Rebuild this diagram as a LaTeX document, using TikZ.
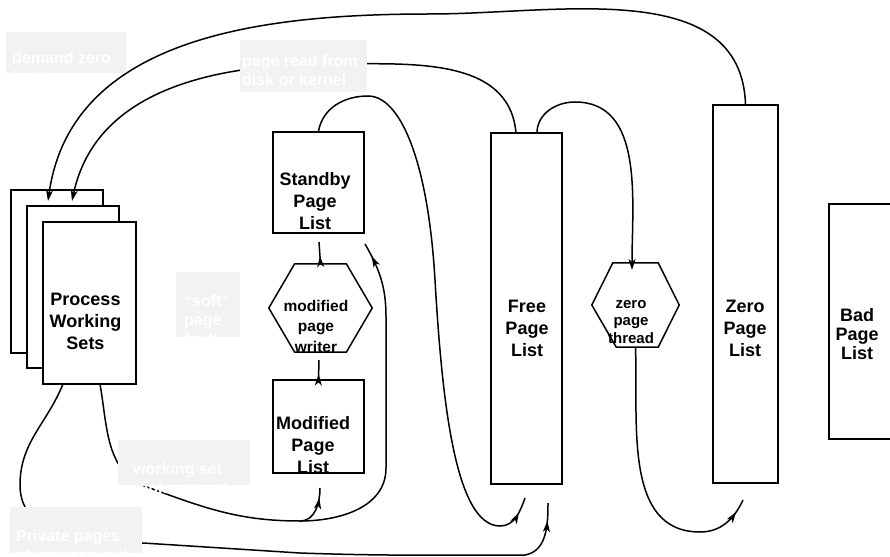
\documentclass[tikz,border=0pt]{standalone}
\usepackage{fontspec}
\setmainfont{Liberation Sans}
\usetikzlibrary{arrows.meta,decorations.markings,calc}
\definecolor{labelgray}{RGB}{242,242,242}

\begin{document}
\begin{tikzpicture}[x=1pt,y=-1pt,
  box/.style={draw,line width=1.5pt,fill=white,inner sep=0pt},
  hexframe/.style={inner sep=0pt},
  listtext/.style={font=\bfseries\fontsize{18}{22}\selectfont,align=center,inner sep=0pt},
  hextext/.style={font=\bfseries\fontsize{15.5}{20.5}\selectfont,align=center,inner sep=0pt},
  tag/.style={fill=labelgray,inner sep=0pt},
  tagtext/.style={font=\bfseries\fontsize{16}{19}\selectfont,text=white,align=left,inner sep=0pt,anchor=north west},
  flow/.style={line width=1.5pt},
  tip/.style={-{Stealth[length=11pt,width=7pt,inset=3pt]}},
  midtip/.style={postaction={decorate},decoration={markings,mark=at position #1 with {\arrow{Stealth[length=11pt,width=7pt,inset=3pt]}}}},
]
\useasboundingbox (0,0) rectangle (890,556);

% stacked working sets
\node[box,minimum width=92,minimum height=163] (pws1) at (57,271.5) {};
\node[box,minimum width=92,minimum height=162] (pws2) at (73,287) {};
\node[box,minimum width=93,minimum height=162] (pws3) at (89.5,303) {};
\node[listtext] (pwst) at (85.5,321) {Process\\Working\\Sets};

% page lists
\node[box,minimum width=91,minimum height=101] (standby) at (318.5,182.5) {};
\node[listtext] (standbyt) at (315,201) {Standby\\Page\\List};
\node[box,minimum width=91,minimum height=93] (modified) at (318.5,426.5) {};
\node[listtext] (modifiedt) at (313,445) {Modified\\Page\\List};
\node[box,minimum width=71,minimum height=351] (free) at (526.5,308.5) {};
\node[listtext] (freet) at (527,328) {Free\\Page\\List};
\node[box,minimum width=65,minimum height=378] (zero) at (745.5,294) {};
\node[listtext] (zerot) at (745,328) {Zero\\Page\\List};
\node[box,minimum width=66,minimum height=235] (bad) at (862,321.5) {};
\node[listtext,font=\bfseries\fontsize{18}{19}\selectfont] (badt) at (857,334) {Bad\\Page\\List};

% hexagonal threads
\node[hexframe,minimum width=103,minimum height=88] (writer) at (320.5,308) {};
\draw[flow] ($(writer.north west)!0.25!(writer.north east)$) -- ($(writer.north west)!0.75!(writer.north east)$)
  -- (writer.east) -- ($(writer.south west)!0.75!(writer.south east)$)
  -- ($(writer.south west)!0.25!(writer.south east)$) -- (writer.west) -- cycle;
\node[hextext] (writert) at (316,326) {modified\\page\\writer};

\node[hexframe,minimum width=87,minimum height=84] (zt) at (635.5,305) {};
\draw[flow] ($(zt.north west)!0.24!(zt.north east)$) -- ($(zt.north west)!0.76!(zt.north east)$)
  -- (zt.east) -- ($(zt.south west)!0.76!(zt.south east)$)
  -- ($(zt.south west)!0.28!(zt.south east)$) -- (zt.west) -- cycle;
\node[hextext,font=\bfseries\fontsize{15}{17.5}\selectfont] (ztt) at (631,322) {zero\\page\\thread};

% connector end points
\coordinate (pwsin1) at (48,201);
\coordinate (pwsin2) at (72,201);
\coordinate (pwsout1) at (63,384);
\coordinate (pwsout2) at (100,384);
\coordinate (freeout1) at (516,133);
\coordinate (freeout2) at (537,133);
\coordinate (freein1) at (525,498);
\coordinate (freein2) at (548,503);
\coordinate (ztin) at (632,270);
\coordinate (zeroin) at (743,500);
\coordinate (stbout) at (319,242);
\coordinate (wrout) at (319,360);
\coordinate (stbin) at (365,244);
\coordinate (modin) at (320,488);
\coordinate (fork) at (300,521);

% demand zero fault
\draw[flow,tip] (zero.north) to[out=92,in=0] (430,14) to[out=180,in=82] (pwsin1);
% page read from disk
\draw[flow,tip] (freeout1) to[out=95,in=0] (330,64) to[out=180,in=78] (pwsin2);
% free list to zero page thread
\draw[flow,tip] (freeout2) to[out=90,in=180] (575,102) to[out=0,in=90] (ztin);
% zero page thread to zero list
\draw[flow,midtip=-14pt] (zt.south) to[out=-88,in=180] (700,532) to[out=0,in=-115] (zeroin);
% standby to free list
\draw[flow,midtip=-16pt] (standby.north) to[out=80,in=180] (368,96)
  .. controls (400,96) and (428,160) .. (435,280)
  .. controls (442,400) and (455,526) .. (500,526) to[out=0,in=-110] (freein1);
% modified page writer links
\draw[flow,midtip=0.35] (writer.north) -- (stbout);
\draw[flow,midtip=0.25] (modified.north) -- (wrout);
% private pages at process exit
\draw[flow,midtip=-18pt] (pwsout1) to[out=-112,in=90] (20,485) to[out=-90,in=180] (143,543) -- (300,553)
  to[out=-2,in=180] (525,555) to[out=10,in=-90] (freein2);
% working set replacement
\draw[flow] (pwsout2) to[out=-80,in=160] (147,487) to[out=-20,in=180] (fork);
\draw[flow,midtip=-10pt] (fork) to[out=0,in=-90] (modin);
\draw[flow,midtip=-14pt] (fork) to[out=0,in=-90] (386,468) -- (386,317) to[out=90,in=-60] (stbin);

% labels
\node[tag,minimum width=120,minimum height=41,anchor=north west] (tagdz) at (6,32) {};
\node[tagtext] (tagdzt) at (12,52) {demand zero\\fault};
\node[tag,minimum width=127,minimum height=52,anchor=north west] (tagpr) at (240,40) {};
\node[tagtext] (tagprt) at (242,55) {page read from\\disk or kernel\\allocations};
\node[tag,minimum width=64,minimum height=65,anchor=north west] (tagsf) at (176,272) {};
\node[tagtext] (tagsft) at (184,295) {“soft”\\page\\fault};
\node[tag,minimum width=132,minimum height=45,anchor=north west] (tagws) at (118,440) {};
\node[tagtext] (tagwst) at (133,463) {working set\\replacement};
\node[tag,minimum width=132,minimum height=46,anchor=north west] (tagpp) at (10,507) {};
\node[tagtext] (tagppt) at (16,530) {Private pages\\at process exit};
\end{tikzpicture}
\end{document}
